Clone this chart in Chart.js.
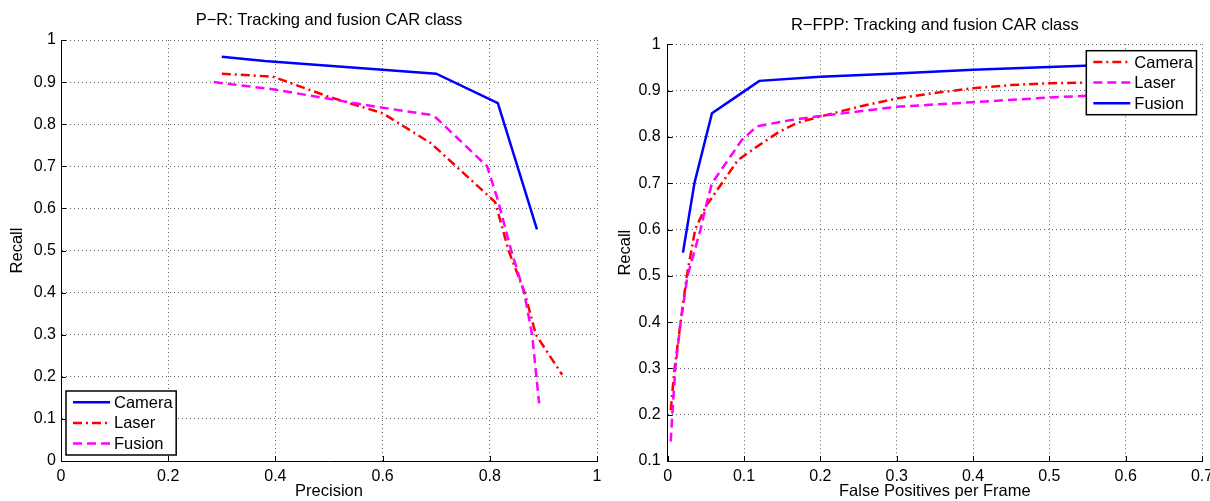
<!DOCTYPE html>
<html><head><meta charset="utf-8">
<script src="https://cdn.jsdelivr.net/npm/chart.js@4.4.0/dist/chart.umd.min.js"></script>
<style>
html,body{margin:0;padding:0;background:#fff;}
#wrap{position:relative;width:1210px;height:501px;overflow:hidden;background:#fff;}
.c{position:absolute;top:0;width:605px;height:501px;}
</style></head><body>
<div id="wrap">
<div class="c" style="left:0"><canvas id="c1" width="605" height="501"></canvas></div>
<div class="c" style="left:605px"><canvas id="c2" width="605" height="501"></canvas></div>
</div>
<script>
// ---- Left chart: P-R ----
const prTitle = 'P\u2212R: Tracking and fusion CAR class';
const prXLabel = 'Precision';
const prYLabel = 'Recall';
const prLabels = ['Camera', 'Laser', 'Fusion'];
const prCameraP = [0.30, 0.38, 0.70, 0.815, 0.888];
const prCameraR = [0.96, 0.95, 0.92, 0.85, 0.55];
const prLaserP = [0.30, 0.395, 0.50, 0.60, 0.69, 0.75, 0.81, 0.835, 0.865, 0.886, 0.935];
const prLaserR = [0.92, 0.913, 0.865, 0.826, 0.755, 0.685, 0.615, 0.50, 0.40, 0.30, 0.205];
const prFusionP = [0.285, 0.395, 0.585, 0.69, 0.70, 0.795, 0.815, 0.84, 0.864, 0.879, 0.892];
const prFusionR = [0.90, 0.883, 0.842, 0.822, 0.815, 0.70, 0.62, 0.50, 0.40, 0.30, 0.137];

// ---- Right chart: R-FPP ----
const rfTitle = 'R\u2212FPP: Tracking and fusion CAR class';
const rfXLabel = 'False Positives per Frame';
const rfYLabel = 'Recall';
const rfLabels = ['Camera', 'Laser', 'Fusion'];
const rfCameraF = [0.004, 0.009, 0.017, 0.025, 0.036, 0.05, 0.071, 0.092, 0.117, 0.145, 0.169, 0.2, 0.25, 0.3, 0.35, 0.4, 0.45, 0.5, 0.58];
const rfCameraR = [0.21, 0.30, 0.40, 0.50, 0.60, 0.65, 0.70, 0.75, 0.779, 0.81, 0.83, 0.844, 0.865, 0.883, 0.895, 0.905, 0.912, 0.916, 0.918];
const rfLaserF = [0.004, 0.006, 0.01, 0.017, 0.026, 0.043, 0.05, 0.058, 0.082, 0.097, 0.117, 0.16, 0.2, 0.3, 0.4, 0.5, 0.6];
const rfLaserR = [0.142, 0.20, 0.30, 0.40, 0.50, 0.60, 0.65, 0.70, 0.757, 0.793, 0.823, 0.836, 0.845, 0.865, 0.875, 0.885, 0.893];
const rfFusionF = [0.02, 0.035, 0.058, 0.09, 0.12, 0.2, 0.3, 0.4, 0.5, 0.6];
const rfFusionR = [0.55, 0.70, 0.851, 0.887, 0.921, 0.93, 0.937, 0.945, 0.951, 0.957];

const FONT = '"Liberation Sans", Arial, sans-serif';
Chart.defaults.font.family = FONT;
Chart.defaults.color = '#000';

const BLUE = '#0000ff', RED = '#ff0000', MAG = '#ff00ff';
const STY = {
  solid: {dash: []},
  dashdot: {dash: [9, 4, 2, 4]},
  dashed: {dash: [9, 5]}
};

function pts(xs, ys) { return xs.map((x, i) => ({x: x, y: ys[i]})); }
function ds(label, xs, ys, color, style, order) {
  return {label: label, data: pts(xs, ys), borderColor: color, backgroundColor: color,
    borderWidth: 2.5, borderDash: STY[style].dash, pointRadius: 0, tension: 0, fill: false, order: order};
}

const boxLegend = {
  id: 'boxLegend',
  afterDatasetsDraw(chart, args, opts) {
    const ctx = chart.ctx, ca = chart.chartArea, sets = chart.data.datasets;
    ctx.save();
    ctx.font = '16.5px ' + FONT;
    const tw = Math.max(...sets.map(d => ctx.measureText(d.label).width));
    const rowH = 20.6, w = 48 + tw + 3.5, h = 64;
    const x = opts.corner === 'bl' ? ca.left + 5 : ca.right - 5.5 - w;
    const y = opts.corner === 'bl' ? ca.bottom - 6 - h : ca.top + 6.4;
    ctx.fillStyle = '#fff'; ctx.fillRect(x, y, w, h);
    ctx.strokeStyle = '#000'; ctx.lineWidth = 1.5; ctx.setLineDash([]); ctx.strokeRect(x, y, w, h);
    sets.forEach((d, i) => {
      const cy = y + 11.3 + i * rowH;
      ctx.beginPath(); ctx.setLineDash(d.borderDash || []);
      ctx.strokeStyle = d.borderColor; ctx.lineWidth = d.borderWidth;
      ctx.moveTo(x + 7, cy); ctx.lineTo(x + 44, cy); ctx.stroke();
      ctx.setLineDash([]);
      ctx.fillStyle = '#000'; ctx.textBaseline = 'middle'; ctx.textAlign = 'left';
      ctx.fillText(d.label, x + 48, cy + 1);
    });
    ctx.restore();
  }
};

const innerTicks = {
  id: 'innerTicks',
  afterDraw(chart) {
    const ctx = chart.ctx, ca = chart.chartArea, sx = chart.scales.x, sy = chart.scales.y;
    ctx.save(); ctx.strokeStyle = '#000'; ctx.lineWidth = 1; ctx.setLineDash([]); ctx.beginPath();
    sx.ticks.forEach(t => { const p = Math.round(sx.getPixelForValue(t.value)) + 0.5; ctx.moveTo(p, ca.bottom); ctx.lineTo(p, ca.bottom - 5); });
    sy.ticks.forEach(t => { const p = Math.round(sy.getPixelForValue(t.value)) + 0.5; ctx.moveTo(ca.left, p); ctx.lineTo(ca.left + 5, p); });
    ctx.stroke(); ctx.restore();
  }
};

const fmt = v => String(Math.round(v * 10) / 10);

function makeChart(id, title, titlePad, sets, xr, yr, xTitle, yTitle, yWidth, yTitlePad, yTickPad, corner) {
  const grid = {color: 'rgba(0,0,0,0.6)', lineWidth: 1, drawTicks: false};
  const border = {display: true, color: '#000', width: 1, dash: [1, 3]};
  return new Chart(document.getElementById(id), {
    type: 'line',
    data: {datasets: sets},
    options: {
      responsive: false, animation: false, devicePixelRatio: 1,
      layout: {padding: {left: 0, right: 8, top: 0, bottom: 0}},
      plugins: {
        legend: {display: false}, tooltip: {enabled: false},
        title: {display: true, fullSize: false, text: title, color: '#000', font: {size: 16.5, weight: 'normal', lineHeight: 1.2}, padding: titlePad},
        boxLegend: {corner: corner}
      },
      scales: {
        x: {type: 'linear', min: xr[0], max: xr[1],
          ticks: {stepSize: xr[2], callback: fmt, font: {size: 16}, color: '#000', padding: 6, maxRotation: 0, autoSkip: false},
          grid: grid, border: border,
          title: {display: true, text: xTitle, color: '#000', font: {size: 16.5, lineHeight: 1.2}, padding: {top: 0, bottom: 0}},
          afterFit(s) { s.height = 40; s.paddingLeft = 0; s.paddingRight = 0; }
        },
        y: {type: 'linear', min: yr[0], max: yr[1],
          ticks: {stepSize: yr[2], callback: fmt, font: {size: 16}, color: '#000', padding: yTickPad, autoSkip: false},
          grid: grid, border: border,
          title: {display: true, text: yTitle, color: '#000', font: {size: 16.5, lineHeight: 1.2}, padding: {top: yTitlePad, bottom: 0}},
          afterFit(s) { s.width = yWidth; s.paddingTop = 0; s.paddingBottom = 0; }
        }
      }
    },
    plugins: [boxLegend, innerTicks]
  });
}

makeChart('c1', prTitle, {top: 11, bottom: 9.2},
  [ds(prLabels[0], prCameraP, prCameraR, BLUE, 'solid', 3),
   ds(prLabels[1], prLaserP, prLaserR, RED, 'dashdot', 2),
   ds(prLabels[2], prFusionP, prFusionR, MAG, 'dashed', 1)],
  [0, 1, 0.2], [0, 1, 0.1], prXLabel, prYLabel, 61, 8, 5, 'bl');

makeChart('c2', rfTitle, {top: 16, bottom: 8.5},
  [ds(rfLabels[0], rfCameraF, rfCameraR, RED, 'dashdot', 3),
   ds(rfLabels[1], rfLaserF, rfLaserR, MAG, 'dashed', 2),
   ds(rfLabels[2], rfFusionF, rfFusionR, BLUE, 'solid', 1)],
  [0, 0.7, 0.1], [0.1, 1, 0.1], rfXLabel, rfYLabel, 62.7, 11, 7, 'tr');
</script>
</body></html>
